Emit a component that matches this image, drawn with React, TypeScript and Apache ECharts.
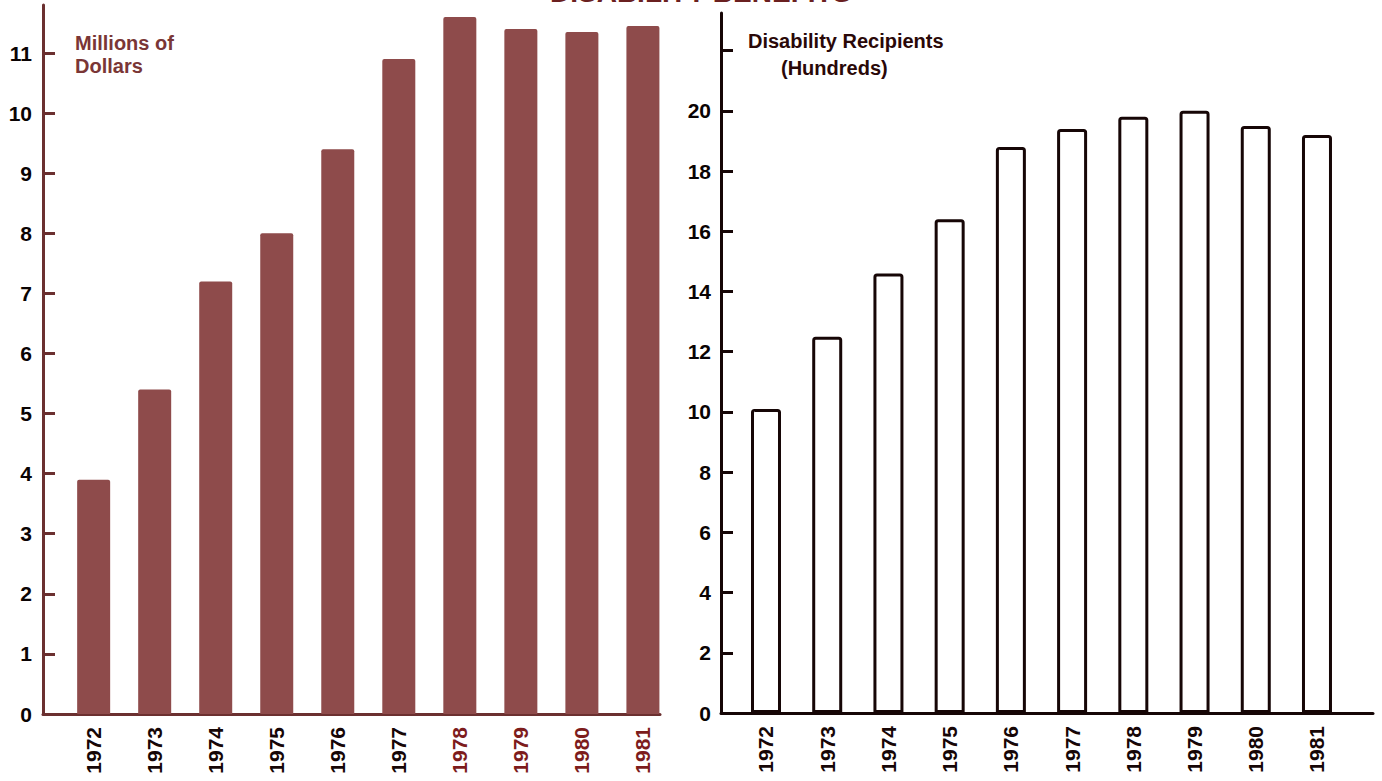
import React, { useEffect, useRef } from "react";
import * as echarts from "echarts";

// Fiscal years shown on both panels
const years = ["1972", "1973", "1974", "1975", "1976", "1977", "1978", "1979", "1980", "1981"];
// Disability benefits paid, millions of dollars
const dollars = [3.9, 5.4, 7.2, 8.0, 9.4, 10.9, 11.6, 11.4, 11.35, 11.45];
// Disability recipients, hundreds
const recipients = [10.1, 12.5, 14.6, 16.4, 18.8, 19.4, 19.8, 20.0, 19.5, 19.2];
// Y-axis ticks
const dollarTicks = [0, 1, 2, 3, 4, 5, 6, 7, 8, 9, 10, 11];
const recipientTicks = [0, 2, 4, 6, 8, 10, 12, 14, 16, 18, 20, 22];
const recipientLabels = [0, 2, 4, 6, 8, 10, 12, 14, 16, 18, 20];

const FONT = "'Liberation Sans', Arial, sans-serif";
const BROWN = "#8e4b4b";
const BROWN_AXIS = "#6b3030";
const DARK = "#160606";
const RED_YEAR = "#7d1c1c";

const indices = years.map((_, i) => i);

export default function App() {
  const ref = useRef<HTMLDivElement>(null);

  useEffect(() => {
    if (!ref.current) return;
    const chart = echarts.init(ref.current, undefined, { renderer: "svg" });

    const yearLabel = (v: number) => years[Math.round(v)] ?? "";

    chart.setOption({
      animation: false,
      backgroundColor: "#ffffff",
      graphic: [
        {
          type: "text",
          x: 550,
          y: -22,
          style: {
            text: "DISABILITY BENEFITS",
            font: `bold 28px ${FONT}`,
            fill: "#6a2020",
          },
        },
        {
          type: "text",
          x: 75,
          y: 31,
          style: {
            text: "Millions of\nDollars",
            font: `bold 20px ${FONT}`,
            lineHeight: 23,
            fill: "#7a3636",
          },
        },
        {
          type: "text",
          x: 748,
          y: 31,
          style: {
            text: "Disability Recipients",
            font: `bold 20px ${FONT}`,
            fill: "#2a0808",
          },
        },
        {
          type: "text",
          x: 781,
          y: 58,
          style: {
            text: "(Hundreds)",
            font: `bold 20px ${FONT}`,
            fill: "#2a0808",
          },
        },
      ],
      grid: [
        { left: 43, width: 617, top: 5, bottom: 67 },
        { left: 721, width: 652, top: 13, bottom: 68 },
      ],
      xAxis: [
        {
          type: "value",
          gridIndex: 0,
          min: -0.83,
          max: 9.28,
          splitLine: { show: false },
          axisTick: { show: false },
          axisLine: { show: true, onZero: false, lineStyle: { color: BROWN_AXIS, width: 3 } },
          axisLabel: {
            customValues: indices,
            formatter: yearLabel,
            rotate: 90,
            margin: 13,
            fontFamily: FONT,
            fontWeight: "bold",
            fontSize: 21,
            color: (v: number) => (Math.round(v) >= 6 ? RED_YEAR : DARK),
          },
        },
        {
          type: "value",
          gridIndex: 1,
          min: -0.735,
          max: 9.915,
          splitLine: { show: false },
          axisTick: { show: false },
          axisLine: { show: true, onZero: false, lineStyle: { color: DARK, width: 3 } },
          axisLabel: {
            customValues: indices,
            formatter: yearLabel,
            rotate: 90,
            margin: 13,
            fontFamily: FONT,
            fontWeight: "bold",
            fontSize: 21,
            color: DARK,
          },
        },
      ],
      yAxis: [
        {
          type: "value",
          gridIndex: 0,
          min: 0,
          max: 11.8,
          splitLine: { show: false },
          axisLine: { show: true, onZero: false, lineStyle: { color: BROWN_AXIS, width: 3 } },
          axisTick: {
            show: true,
            inside: true,
            length: 12,
            customValues: dollarTicks,
            lineStyle: { color: BROWN_AXIS, width: 3 },
          },
          axisLabel: {
            customValues: dollarTicks,
            margin: 11,
            fontFamily: FONT,
            fontWeight: "bold",
            fontSize: 21,
            color: "#0a0303",
          },
        },
        {
          type: "value",
          gridIndex: 1,
          min: 0,
          max: 23.25,
          splitLine: { show: false },
          axisLine: { show: true, onZero: false, lineStyle: { color: DARK, width: 3 } },
          axisTick: {
            show: true,
            inside: true,
            length: 12,
            customValues: recipientTicks,
            lineStyle: { color: DARK, width: 3 },
          },
          axisLabel: {
            customValues: recipientLabels,
            margin: 10,
            fontFamily: FONT,
            fontWeight: "bold",
            fontSize: 21,
            color: "#0a0303",
          },
        },
      ],
      series: [
        {
          type: "bar",
          xAxisIndex: 0,
          yAxisIndex: 0,
          barWidth: 33,
          data: dollars.map((v, i) => [i, v]),
          itemStyle: { color: BROWN, borderRadius: [2, 2, 0, 0] },
          z: 1,
        },
        {
          type: "bar",
          xAxisIndex: 1,
          yAxisIndex: 1,
          barWidth: 30,
          data: recipients.map((v, i) => [i, v]),
          itemStyle: {
            color: "#ffffff",
            borderColor: DARK,
            borderWidth: 3,
            borderRadius: [2, 2, 0, 0],
          },
          z: 1,
        },
      ],
    });

    return () => chart.dispose();
  }, []);

  return (
    <div
      ref={ref}
      style={{ position: "fixed", left: 0, top: 0, width: 1382, height: 781, background: "#fff" }}
    />
  );
}
